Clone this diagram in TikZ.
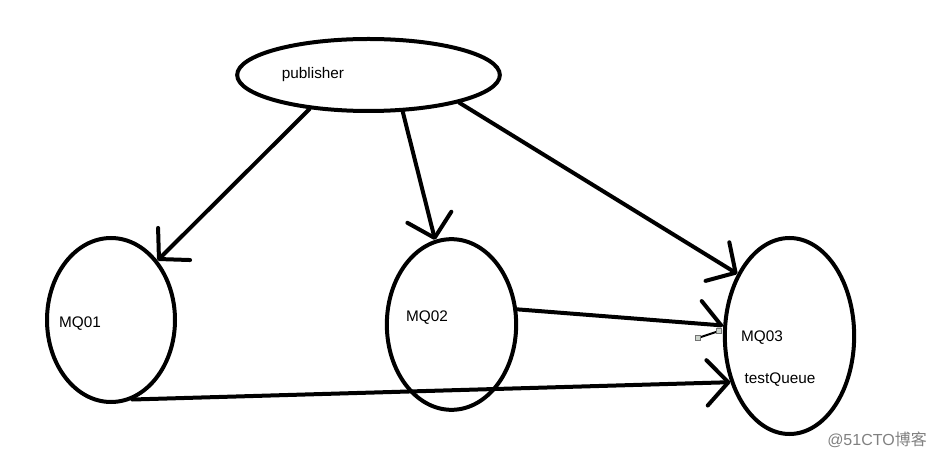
\documentclass[tikz,border=0pt]{standalone}
\usepackage{fontspec}
\setmainfont{Liberation Sans}
\newfontfamily\cjkfont{Noto Sans CJK SC}
\usetikzlibrary{shapes.geometric,arrows.meta}

\begin{document}
\begin{tikzpicture}[x=0.75pt,y=0.75pt,yscale=-1,xscale=1,
  queue/.style={draw,ellipse,line width=3pt,inner sep=0pt},
  conn/.style={line width=3pt,line cap=round,-{Straight Barb[length=16pt,width=34pt,round]}},
  halfconn/.style={line width=3pt,line cap=round,-{Straight Barb[length=16pt,width=34pt,round,left]}},
  lbl/.style={inner sep=0.75pt,font=\fontsize{11.5}{13}\selectfont},
  handle/.style={draw=black!55,fill=green!15!black!20,line width=0.5pt,minimum size=3.5pt,inner sep=0pt}]
\useasboundingbox (0,0) rectangle (937,459);

% Ellipse
\node[queue,minimum width=197pt,minimum height=54pt] (pub) at (368.5,75) {};
% Ellipse
\node[queue,minimum width=96pt,minimum height=123pt] (mq01) at (111,320) {};
% Ellipse
\node[queue,minimum width=97pt,minimum height=128pt] (mq02) at (451.5,324.5) {};
% Ellipse
\node[queue,minimum width=97pt,minimum height=147pt] (mq03) at (789.5,336) {};

% Text Node
\node[lbl] (publbl) at (313,75) {publisher};
% Text Node
\node[lbl] (mq01lbl) at (80,324) {MQ01};
% Text Node
\node[lbl] (mq02lbl) at (427,318) {MQ02};
% Text Node
\node[lbl] (mq03lbl) at (762,338) {MQ03};
% Text Node
\node[lbl] (queuelbl) at (780,380) {testQueue};
% Text Node
\node[lbl,font=\fontsize{12}{14}\selectfont,text=black!50] (mark) at (877,440) {@51CTO{\cjkfont 博客}};

% Connection
\draw[conn] (pub.210) -- (mq01.52);
% Connection
\draw[conn] (pub.313) -- (mq02.101);
% Connection
\draw[conn] (pub.343) -- (mq03.130);
% Connection
\draw[halfconn] (mq02.13) -- (mq03.171);
% Connection
\draw[conn] (mq01.285) -- (mq03.218);

% Stray segment
\coordinate (hA) at (698,338);
\coordinate (hB) at (719,331);
\draw[line width=1.5pt] (hA) -- (hB);
\node[handle] at (hA) {};
\node[handle] at (hB) {};

\end{tikzpicture}
\end{document}
